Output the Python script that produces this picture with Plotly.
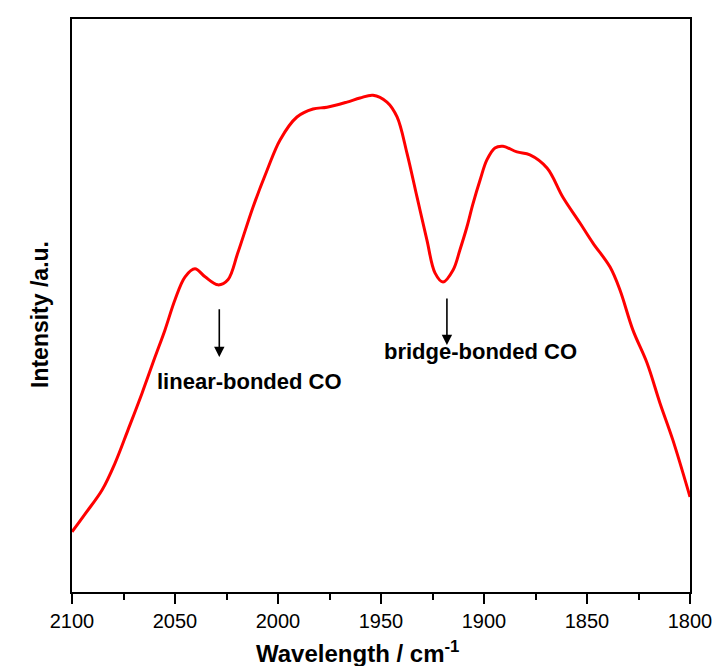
import plotly.graph_objects as go

# Wavenumber (cm^-1) and intensity (a.u.)
wavenumber = [2100.0, 2093.7, 2085.4, 2079.1, 2072.8, 2066.0, 2059.7, 2054.9, 2050.0, 2045.1,
              2040.3, 2035.4, 2029.1, 2024.3, 2019.5, 2012.1, 2005.3, 1999.0, 1990.8, 1983.0,
              1976.2, 1966.5, 1960.2, 1953.9, 1947.1, 1942.2, 1937.4, 1932.5, 1927.7, 1923.8,
              1919.9, 1915.0, 1911.7, 1908.3, 1905.4, 1901.9, 1898.6, 1894.7, 1890.8, 1884.0,
              1877.7, 1869.4, 1861.7, 1853.4, 1847.1, 1838.8, 1834.0, 1827.7, 1820.9, 1814.6,
              1808.3, 1800.0]
intensity = [0.105, 0.136, 0.178, 0.225, 0.283, 0.347, 0.410, 0.457, 0.510, 0.550,
             0.564, 0.550, 0.536, 0.545, 0.592, 0.672, 0.736, 0.789, 0.829, 0.843,
             0.846, 0.855, 0.862, 0.867, 0.855, 0.829, 0.766, 0.689, 0.614, 0.557,
             0.541, 0.562, 0.597, 0.637, 0.677, 0.719, 0.754, 0.775, 0.778, 0.768,
             0.763, 0.740, 0.689, 0.644, 0.609, 0.567, 0.527, 0.457, 0.400, 0.330,
             0.265, 0.166]

tick_vals = [2100, 2050, 2000, 1950, 1900, 1850, 1800]
tick_text = ["2100", "2050", "2000", "1950", "1900", "1850", "1800"]

# annotations: (label, arrow x, arrow tail y, arrow head y, text x, text y)
labels = ["linear-bonded CO", "bridge-bonded CO"]
arrow_x = [2028.5, 1918.0]
arrow_tail_y = [0.496, 0.515]
arrow_head_y = [0.410, 0.431]
label_x = [2013.8, 1901.5]
label_y = [0.368, 0.419]

FONT = "Arial, Liberation Sans, sans-serif"

fig = go.Figure()
fig.add_trace(go.Scatter(
    x=wavenumber, y=intensity, mode="lines",
    line=dict(color="#ff0000", width=3, shape="spline", smoothing=1.0),
    showlegend=False, hoverinfo="skip"))

for lab, ax_, ty, hy, lx, ly in zip(labels, arrow_x, arrow_tail_y, arrow_head_y, label_x, label_y):
    fig.add_annotation(x=ax_, y=hy, ax=ax_, ay=ty, xref="x", yref="y", axref="x", ayref="y",
                       text="", showarrow=True, arrowhead=2, arrowsize=1.3, arrowwidth=1.6,
                       arrowcolor="black")
    fig.add_annotation(x=lx, y=ly, xref="x", yref="y", text="<b>%s</b>" % lab,
                       showarrow=False, font=dict(family=FONT, size=22, color="black"))

# axis titles
fig.add_annotation(x=(357 - 72) / 618, y=-(652 - 592) / 573, xref="paper", yref="paper",
                   text="<b>Wavelength / cm<sup>-1</sup></b>", showarrow=False,
                   xanchor="center", yanchor="middle",
                   font=dict(family=FONT, size=24, color="black"))
fig.add_annotation(x=-(72 - 40) / 618, y=(592 - 315) / 573, xref="paper", yref="paper",
                   text="<b>Intensity /a.u.</b>", showarrow=False, textangle=-90,
                   xanchor="center", yanchor="middle",
                   font=dict(family=FONT, size=23, color="black"))

fig.update_layout(
    width=717, height=666,
    margin=dict(l=72, r=27, t=19, b=74, autoexpand=False),
    paper_bgcolor="white", plot_bgcolor="white",
    font=dict(family=FONT, color="black"),
)
fig.update_xaxes(
    range=[2100, 1800], showgrid=False, zeroline=False, automargin=False,
    showline=True, linecolor="black", linewidth=2, mirror=True,
    tickmode="array", tickvals=tick_vals, ticktext=tick_text,
    ticks="outside", ticklen=10, tickwidth=2, tickcolor="black",
    tickfont=dict(family=FONT, size=20, color="black"),
    minor=dict(dtick=25, ticks="outside", ticklen=6, tickwidth=2, tickcolor="black", showgrid=False),
)
fig.update_yaxes(
    range=[0, 1], showgrid=False, zeroline=False, automargin=False,
    showline=True, linecolor="black", linewidth=2, mirror=True,
    showticklabels=False, ticks="",
)

fig.write_html("out.html")
